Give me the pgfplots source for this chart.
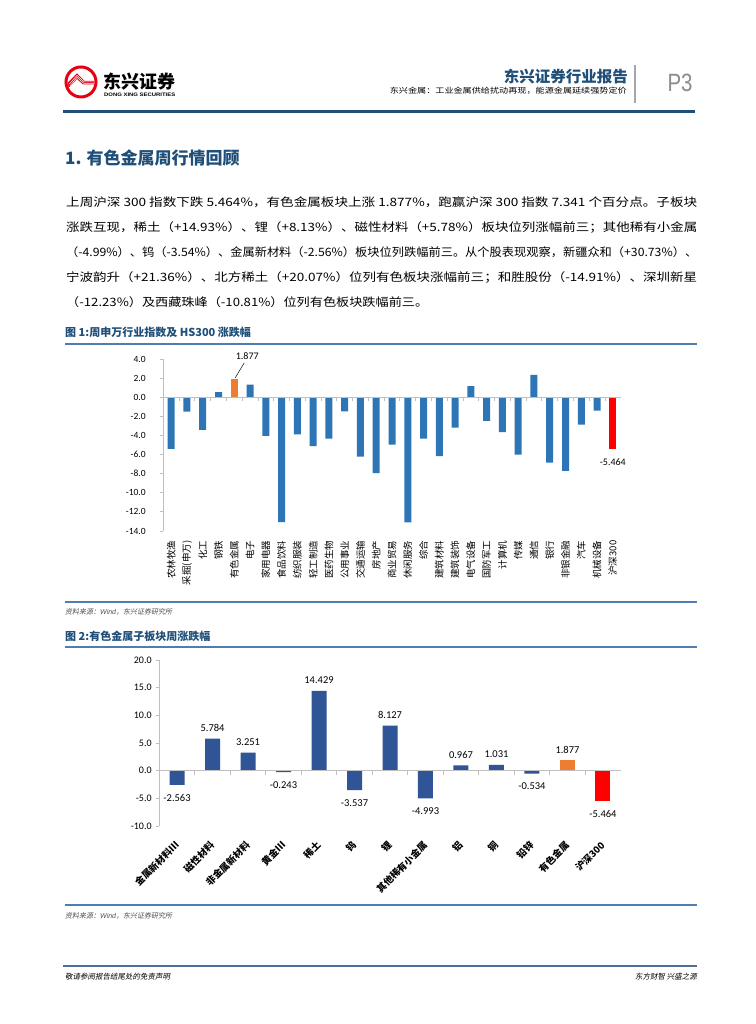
\documentclass[border=0pt]{standalone}
\usepackage{fontspec}
\usepackage{graphicx}
\usepackage{pgfplots}
\pgfplotsset{compat=1.18}
\setmainfont{Noto Sans CJK SC}
\newfontfamily\carl{Carlito}
\newfontfamily\lsans{Liberation Sans}
\newfontfamily\cjksl[FakeSlant=0.18]{Noto Sans CJK SC}
\definecolor{navy}{HTML}{1F4E79}
\definecolor{rulec}{HTML}{4F7DAF}
\definecolor{barblue}{HTML}{2E75B6}
\definecolor{darkbar}{HTML}{2F5597}
\definecolor{orng}{HTML}{ED7D31}
\definecolor{logored}{HTML}{E60012}
\definecolor{axgray}{HTML}{BFBFBF}
\definecolor{srcgray}{HTML}{505050}
\begin{document}
\begin{tikzpicture}
\begin{scope}[x=1pt,y=1pt]
\fill[white] (0,0) rectangle (755,1024);
% ---------- header ----------
\draw[logored, line width=3pt] (81,942) circle (15);
\fill[logored] (68.5,936) -- (77,945) -- (83,939.5) -- (94,939.5) -- (94,943) -- (84.5,943) -- (77,950.5) -- (68,941.5) -- cycle;
\draw[white, line width=0.5pt] (70,938.2) -- (77,946.6) -- (83.8,940.6) -- (94,940.6);
\draw[white, line width=0.5pt] (69.3,940) -- (77,948.6) -- (84.3,942) -- (94,942);
\node[anchor=west, inner sep=0] at (103,942.5) {\fontsize{18}{18}\selectfont\bfseries 东兴证券};
\node[anchor=west, inner sep=0] at (104,929) {\resizebox{71pt}{\height}{\lsans\fontsize{5}{5}\selectfont\bfseries DONG XING SECURITIES}};
\node[anchor=east, inner sep=0, text=navy] at (628,947) {\fontsize{15.5}{16}\selectfont\bfseries 东兴证券行业报告};
\node[anchor=east, inner sep=0] at (627,933) {\resizebox{237pt}{\height}{\fontsize{7.5}{8}\selectfont 东兴金属：工业金属供给扰动再现，能源金属延续强势定价}};
\draw[gray!70, line width=1.2pt] (635,959) -- (635,921);
\node[text=gray!90, inner sep=0] at (680,941) {\resizebox{25pt}{\height}{\lsans\fontsize{25}{25}\selectfont P3}};
\draw[navy, line width=3pt] (63,912) -- (695,912);
% ---------- heading + paragraph ----------
\node[anchor=west, inner sep=0, text=navy] at (65,866) {\fontsize{17}{17}\selectfont\bfseries 1. 有色金属周行情回顾};
\node[anchor=base west, inner sep=0] at (66,817) {\resizebox{631pt}{\height}{\fontsize{11.5}{12}\selectfont 上周沪深 300 指数下跌 5.464\%，有色金属板块上涨 1.877\%，跑赢沪深 300 指数 7.341 个百分点。子板块}};
\node[anchor=base west, inner sep=0] at (66,792) {\resizebox{631pt}{\height}{\fontsize{11.5}{12}\selectfont 涨跌互现，稀土（+14.93\%）、锂（+8.13\%）、磁性材料（+5.78\%）板块位列涨幅前三；其他稀有小金属}};
\node[anchor=base west, inner sep=0] at (66,767) {\resizebox{631pt}{\height}{\fontsize{11.5}{12}\selectfont （-4.99\%）、钨（-3.54\%）、金属新材料（-2.56\%）板块位列跌幅前三。从个股表现观察，新疆众和（+30.73\%）、}};
\node[anchor=base west, inner sep=0] at (66,742) {\resizebox{631pt}{\height}{\fontsize{11.5}{12}\selectfont 宁波韵升（+21.36\%）、北方稀土（+20.07\%）位列有色板块涨幅前三；和胜股份（-14.91\%）、深圳新星}};
\node[anchor=base west, inner sep=0] at (66,717) {\resizebox{362pt}{\height}{\fontsize{11.5}{12}\selectfont （-12.23\%）及西藏珠峰（-10.81\%）位列有色板块跌幅前三。}};
% ---------- figure 1 caption ----------
\node[anchor=west, inner sep=0, text=navy] at (65,692) {\fontsize{11}{11}\selectfont\bfseries 图 1:周申万行业指数及 HS300 涨跌幅};
\draw[rulec, line width=1.5pt] (65,680) -- (697,680);
% ---------- source 1 ----------
\draw[rulec, line width=1.5pt] (65,422) -- (697,422);
\node[anchor=west, inner sep=0, text=srcgray] at (65,412) {\fontsize{7}{7}\selectfont\cjksl 资料来源：{\lsans\itshape Wind}，东兴证券研究所};
% ---------- figure 2 caption ----------
\node[anchor=west, inner sep=0, text=navy] at (65,388) {\fontsize{11}{11}\selectfont\bfseries 图 2:有色金属子板块周涨跌幅};
\draw[rulec, line width=1.5pt] (65,377) -- (697,377);
% ---------- source 2 ----------
\draw[rulec, line width=1.5pt] (65,119) -- (697,119);
\node[anchor=west, inner sep=0, text=srcgray] at (65,108) {\fontsize{7}{7}\selectfont\cjksl 资料来源：{\lsans\itshape Wind}，东兴证券研究所};
% ---------- footer ----------
\draw[navy!80, line width=2pt] (63,58) -- (697,58);
\node[anchor=west, inner sep=0] at (65,47) {\fontsize{7.5}{7.5}\selectfont\cjksl 敬请参阅报告结尾处的免责声明};
\node[anchor=east, inner sep=0] at (697,47) {\fontsize{7.5}{7.5}\selectfont\cjksl 东方财智~兴盛之源};
\end{scope}
% ---------- chart 1 ----------
\begin{axis}[
  at={(163.3pt,493pt)}, anchor=south west, scale only axis,
  width=457.4pt, height=172pt,
  xmin=-0.5, xmax=28.5, ymin=-14, ymax=4,
  separate axis lines,
  axis x line*=bottom, x axis line style={draw=none},
  axis y line*=left, y axis line style={draw=axgray, line width=0.8pt},
  xtick={0,...,28},
  xticklabels={农林牧渔,采掘(申万),化工,钢铁,有色金属,电子,家用电器,食品饮料,纺织服装,轻工制造,医药生物,公用事业,交通运输,房地产,商业贸易,休闲服务,综合,建筑材料,建筑装饰,电气设备,国防军工,计算机,传媒,通信,银行,非银金融,汽车,机械设备,沪深300},
  x tick label style={rotate=90, anchor=east, font=\fontsize{9.5}{9.5}\selectfont, inner sep=0pt},
  xticklabel shift=6pt,
  x tick style={draw=none},
  ytick={-14,-12,...,4},
  yticklabel style={font=\carl\fontsize{9.5}{9.5}\selectfont, inner sep=0pt},
  /pgf/number format/fixed, /pgf/number format/fixed zerofill, /pgf/number format/precision=1, /pgf/number format/assume math mode=true,
  yticklabel shift=14pt,
  y tick style={draw=axgray, line width=0.8pt},
  tick align=outside, major tick length=3.5pt,
  clip=false,
]
\addplot[ybar, bar width=7pt, bar shift=0pt, fill=barblue, draw=none] coordinates {
 (0,-5.41) (1,-1.50) (2,-3.42) (3,0.52) (5,1.33) (6,-4.05) (7,-13.08) (8,-3.90)
 (9,-5.13) (10,-4.33) (11,-1.47) (12,-6.21) (13,-7.95) (14,-4.95) (15,-13.10)
 (16,-4.33) (17,-6.17) (18,-3.17) (19,1.15) (20,-2.48) (21,-3.66) (22,-6.00)
 (23,2.34) (24,-6.84) (25,-7.70) (26,-2.86) (27,-1.40)};
\addplot[ybar, bar width=7pt, bar shift=0pt, fill=orng, draw=none,
  nodes near coords={\pgfmathprintnumber[fixed,fixed zerofill,precision=3,assume math mode=true]{\pgfplotspointmeta}},
  every node near coord/.append style={anchor=center, xshift=13pt, yshift=23pt, font=\carl\fontsize{10}{10}\selectfont}]
  coordinates {(4,1.877)};
\addplot[ybar, bar width=7pt, bar shift=0pt, fill=red, draw=none,
  nodes near coords={\pgfmathprintnumber[fixed,fixed zerofill,precision=3,assume math mode=true]{\pgfplotspointmeta}},
  every node near coord/.append style={anchor=center, yshift=-13pt, font=\carl\fontsize{10}{10}\selectfont}]
  coordinates {(28,-5.464)};
\draw[axgray, line width=0.8pt] (axis cs:-0.5,0) -- (axis cs:28.5,0);
\pgfplotsinvokeforeach{0,...,27}{\draw[axgray, line width=0.8pt] (axis cs:#1.5,0) -- ++(0pt,-3.5pt);}
\draw[black, line width=0.5pt] (axis cs:4,1.877) ++(1pt,1.5pt) -- ++(9pt,15pt);
\end{axis}
% ---------- chart 2 ----------
\begin{axis}[
  at={(159.3pt,198pt)}, anchor=south west, scale only axis,
  width=461.4pt, height=166pt,
  xmin=-0.5, xmax=12.5, ymin=-10, ymax=20,
  separate axis lines,
  axis x line*=bottom, x axis line style={draw=none},
  axis y line*=left, y axis line style={draw=axgray, line width=0.8pt},
  xtick={0,...,12},
  xticklabels={金属新材料Ⅲ,磁性材料,非金属新材料,黄金Ⅲ,稀土,钨,锂,其他稀有小金属,铝,铜,铅锌,有色金属,沪深300},
  x tick label style={rotate=45, anchor=east, font=\fontsize{9.5}{9.5}\selectfont\bfseries, inner sep=0pt},
  xticklabel shift=14pt,
  x tick style={draw=none},
  ytick={-10,-5,...,20},
  yticklabel style={font=\carl\fontsize{10}{10}\selectfont, inner sep=0pt},
  /pgf/number format/fixed, /pgf/number format/fixed zerofill, /pgf/number format/precision=1, /pgf/number format/assume math mode=true,
  yticklabel shift=4pt,
  y tick style={draw=axgray, line width=0.8pt},
  tick align=outside, major tick length=3.5pt,
  clip=false,
  nodes near coords={\pgfmathprintnumber[fixed,fixed zerofill,precision=3,assume math mode=true]{\pgfplotspointmeta}},
  every node near coord/.append style={font=\carl\fontsize{10.5}{10.5}\selectfont, inner sep=8pt, yshift=-1.3pt},
]
\addplot[ybar, bar width=15pt, bar shift=0pt, fill=darkbar, draw=none] coordinates {
 (0,-2.563) (1,5.784) (2,3.251) (3,-0.243) (4,14.429) (5,-3.537) (6,8.127)
 (7,-4.993) (8,0.967) (9,1.031) (10,-0.534)};
\addplot[ybar, bar width=15pt, bar shift=0pt, fill=orng, draw=none] coordinates {(11,1.877)};
\addplot[ybar, bar width=15pt, bar shift=0pt, fill=red, draw=none] coordinates {(12,-5.464)};
\draw[axgray, line width=0.8pt] (axis cs:-0.5,0) -- (axis cs:12.5,0);
\pgfplotsinvokeforeach{0,...,11}{\draw[axgray, line width=0.8pt] (axis cs:#1.5,0) -- ++(0pt,-4pt);}
\end{axis}
\pgfresetboundingbox
\path[use as bounding box] (0pt,0pt) rectangle (755pt,1024pt);
\end{tikzpicture}
\end{document}
